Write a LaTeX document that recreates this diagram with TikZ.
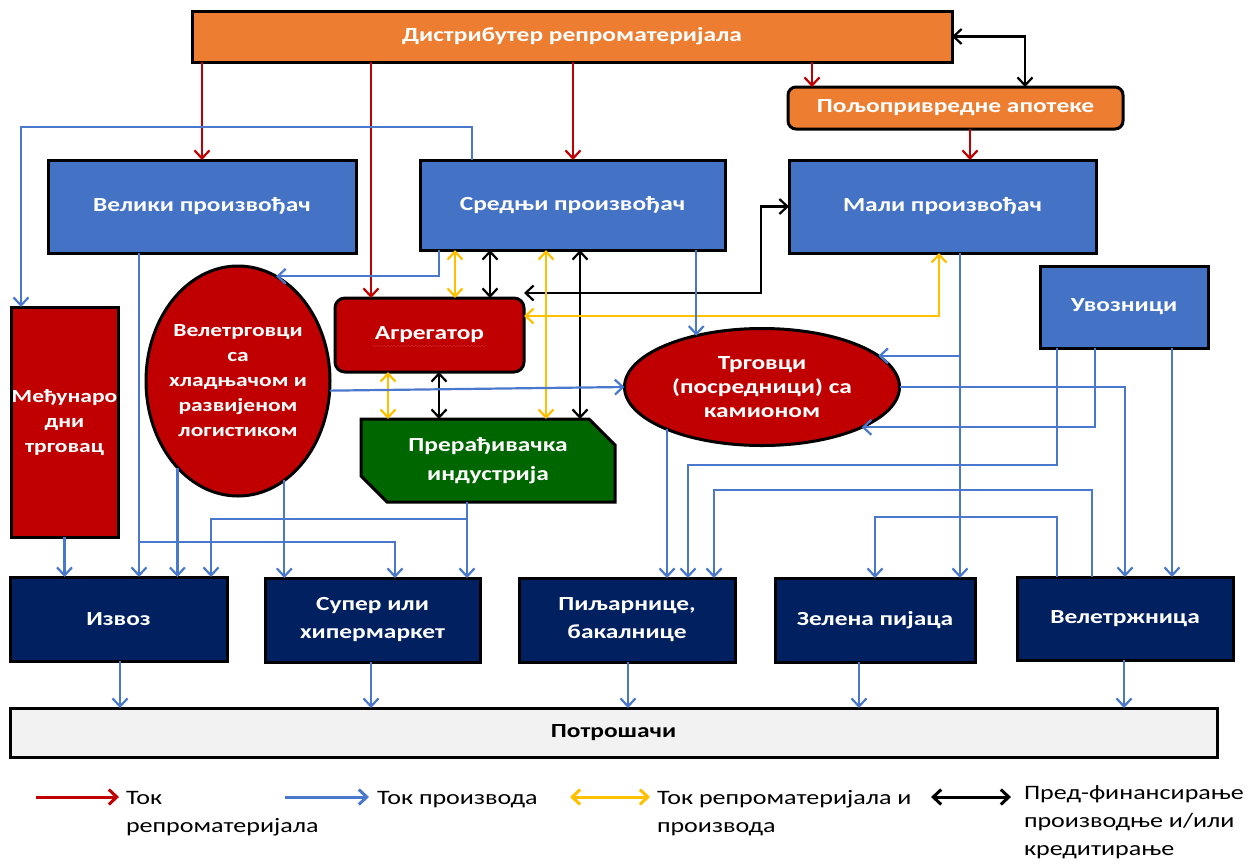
\documentclass[tikz,border=0pt]{standalone}
\usepackage{fontspec}
\setmainfont{Carlito}[FakeStretch=1.27]
\usetikzlibrary{arrows.meta,shapes.geometric,shapes.misc,calc,decorations.pathmorphing}
\definecolor{cOrange}{HTML}{ED7D31}
\definecolor{cBlue}{HTML}{4472C4}
\definecolor{cRed}{HTML}{C00000}
\definecolor{cGreen}{HTML}{006600}
\definecolor{cNavy}{HTML}{002060}
\definecolor{cGray}{HTML}{F2F2F2}
\definecolor{cLine}{HTML}{4A78CC}
\definecolor{cYellow}{HTML}{FFC000}
\begin{document}
\begin{tikzpicture}[x=1pt,y=-1pt,
  >={Straight Barb[length=8pt,width=15pt]},
  every node/.style={inner sep=0pt, outer sep=0pt, align=center},
  box/.style={draw=black, line width=3pt, text=white,
    font=\fontsize{20}{25}\selectfont\bfseries},
  conn/.style={line width=2.2pt, line join=miter},
  redc/.style={conn, draw=cRed, ->},
  bluc/.style={conn, draw=cLine, ->},
  yelc/.style={conn, draw=cYellow, <->},
  blkc/.style={conn, draw=black, <->},
  legt/.style={anchor=north west, align=left, text=black,
    font=\fontsize{20.5}{28}\selectfont}]
\useasboundingbox (0,0) rectangle (1249,863);

% ---- nodes
\node[box, fill=cOrange, minimum width=760pt, minimum height=51pt] (dist) at (572,36.5) {Дистрибутер репроматеријала};
\node[box, fill=cOrange, rounded corners=8pt, minimum width=335pt, minimum height=42pt] (apo) at (955.5,108) {Пољопривредне апотеке};
\node[box, fill=cBlue, minimum width=308pt, minimum height=93pt] (vel) at (202,206.5) {Велики произвођач};
\node[box, fill=cBlue, minimum width=305pt, minimum height=90pt] (sred) at (572.5,205) {Средњи произвођач};
\node[box, fill=cBlue, minimum width=307pt, minimum height=93pt] (mali) at (942.5,206.5) {Мали произвођач};
\node[box, fill=cBlue, minimum width=168pt, minimum height=82pt] (uvoz) at (1124,307) {Увозници};
\node[box, fill=cRed, minimum width=107pt, minimum height=230pt, inner xsep=-3pt, font=\fontsize{18.5}{25}\selectfont\bfseries] (medj) at (64.5,422) {Међунаро\\дни\\трговац};
\node[box, ellipse, fill=cRed, minimum width=184pt, minimum height=230pt, inner xsep=-12pt, font=\fontsize{18.5}{25}\selectfont\bfseries] (velet) at (238,381) {Велетрговци\\са\\хладњачом и\\развијеном\\логистиком};
\node[box, fill=cRed, rounded corners=10pt, minimum width=189pt, minimum height=74pt] (agr) at (429.5,335) {Агрегатор};
\node[box, ellipse, fill=cRed, minimum width=275pt, minimum height=117pt, inner xsep=-6pt, font=\fontsize{20}{24}\selectfont\bfseries] (trg) at (762,387) {Трговци\\(посредници) са\\камионом};
\node[box, chamfered rectangle, chamfered rectangle corners={north east,south west}, chamfered rectangle xsep=13pt, chamfered rectangle ysep=13pt, fill=cGreen, minimum width=254pt, minimum height=83pt, font=\fontsize{20}{29}\selectfont\bfseries] (prer) at (488,460.5) {Прерађивачка\\индустрија};
\node[box, fill=cNavy, minimum width=217pt, minimum height=84pt] (izvoz) at (118.5,619) {Извоз};
\node[box, fill=cNavy, minimum width=215pt, minimum height=84pt, font=\fontsize{20}{28}\selectfont\bfseries] (super) at (372.5,620) {Супер или\\хипермаркет};
\node[box, fill=cNavy, minimum width=216pt, minimum height=84pt, font=\fontsize{20}{28}\selectfont\bfseries] (pilj) at (627,620) {Пиљарнице,\\бакалнице};
\node[box, fill=cNavy, minimum width=200pt, minimum height=84pt] (zel) at (875,620) {Зелена пијаца};
\node[box, fill=cNavy, minimum width=216pt, minimum height=83pt] (velt) at (1125,618.5) {Велетржница};
\node[box, fill=cGray, text=black, minimum width=1207pt, minimum height=49pt] (potr) at (613.5,732.5) {Потрошачи};

\draw[cRed!85, line width=0.6pt, decorate, decoration={snake, amplitude=0.8pt, segment length=3.5pt}] ($(agr.center)+(-57,11)$) -- ($(agr.center)+(57,11)$);

% ---- red: flow of inputs
\draw[redc] (vel.north |- dist.south) -- (vel.north);
\draw[redc] (371,0 |- dist.south) -- (371,0 |- agr.north);
\draw[redc] (573,0 |- dist.south) -- (573,0 |- sred.north);
\draw[redc] (812,0 |- dist.south) -- (812,0 |- apo.north);
\draw[redc] (970,0 |- apo.south) -- (970,0 |- mali.north);

% ---- black: pre-financing
\draw[blkc] (dist.east) -- (1025,0 |- dist.east) -- (1025,0 |- apo.north);
\draw[blkc] (490,0 |- sred.south) -- (490,0 |- agr.north);
\draw[blkc] (580,0 |- sred.south) -- (580,0 |- prer.north);
\draw[blkc] (439,0 |- agr.south) -- (439,0 |- prer.north);
\draw[blkc] (agr.east |- 0,293) -- (761,293) -- (761,0 |- mali.west) -- (mali.west);

% ---- yellow: inputs and products
\draw[yelc] (455,0 |- sred.south) -- (455,0 |- agr.north);
\draw[yelc] (546,0 |- sred.south) -- (546,0 |- prer.north);
\draw[yelc] (388,0 |- agr.south) -- (388,0 |- prer.north);
\draw[yelc] (agr.east |- 0,316) -- (939,316) -- (939,0 |- mali.south);

% ---- blue: flow of products
\draw[bluc] (472,0 |- sred.north) -- (472,127) -- (21,127) -- (21,0 |- medj.north);
\draw[bluc] (439,0 |- sred.south) |- (velet.70);
\draw[bluc] (139,0 |- vel.south) -- (139,0 |- izvoz.north);
\coordinate (bv) at (139,542);
\draw[bluc] (bv) -- (395,542) -- (395,0 |- super.north);
\draw[bluc] (velet.235) -- (velet.235 |- izvoz.north);
\draw[bluc] (velet.295) -- (velet.295 |- super.north);
\draw[bluc] (velet.-6) -- (trg.west);
\draw[bluc] (467,0 |- prer.south) -- (467,0 |- super.north);
\coordinate (bp) at (467,519);
\draw[bluc] (bp) -- (211,519) -- (211,0 |- izvoz.north);
\draw[bluc] (medj.south) -- (medj.south |- izvoz.north);
\draw[bluc] (trg.142 |- sred.south) -- (trg.142);
\draw[bluc] (960,0 |- mali.south) -- (960,0 |- zel.north);
\draw[bluc] (trg.15 -| 960,0) -- (trg.15);
\draw[bluc] (1172,0 |- uvoz.south) -- (1172,0 |- velt.north);
\draw[bluc] (1095,0 |- uvoz.south) |- (trg.-22);
\draw[bluc] (1057,0 |- uvoz.south) -- (1057,465) -- (688,465) -- (688,0 |- pilj.north);
\draw[bluc] (trg.east) -- (trg.east -| velt.north) -- (velt.north);
\draw[bluc] (trg.204) -- (trg.204 |- pilj.north);
\draw[bluc] (1057,0 |- velt.north) -- (1057,517) -- (875,517) -- (zel.north);
\draw[bluc] (1092,0 |- velt.north) -- (1092,490) -- (714,490) -- (714,0 |- pilj.north);

\draw[bluc] (120,0 |- izvoz.south) -- (120,0 |- potr.north);
\draw[bluc] (371,0 |- super.south) -- (371,0 |- potr.north);
\draw[bluc] (628,0 |- pilj.south) -- (628,0 |- potr.north);
\draw[bluc] (859,0 |- zel.south) -- (859,0 |- potr.north);
\draw[bluc] (1124,0 |- velt.south) -- (1124,0 |- potr.north);

% ---- legend
\coordinate (l1a) at (36,797);  \coordinate (l1b) at (119,797);
\coordinate (l2a) at (285,797); \coordinate (l2b) at (369,797);
\coordinate (l3a) at (570,797); \coordinate (l3b) at (650,797);
\coordinate (l4a) at (931,797); \coordinate (l4b) at (1011,797);
\draw[redc, line width=3pt] (l1a) -- (l1b);
\draw[bluc, line width=3pt] (l2a) -- (l2b);
\draw[yelc, line width=3pt] (l3a) -- (l3b);
\draw[blkc, line width=3pt] (l4a) -- (l4b);
\node[legt] (t1) at (126,791) {Ток\\репроматеријала};
\node[legt] (t2) at (377,791) {Ток производа};
\node[legt] (t3) at (657,790) {Ток репроматеријала и\\производа};
\node[legt] (t4) at (1024,786) {Пред-финансирање\\производње и/или\\кредитирање};
\end{tikzpicture}
\end{document}
